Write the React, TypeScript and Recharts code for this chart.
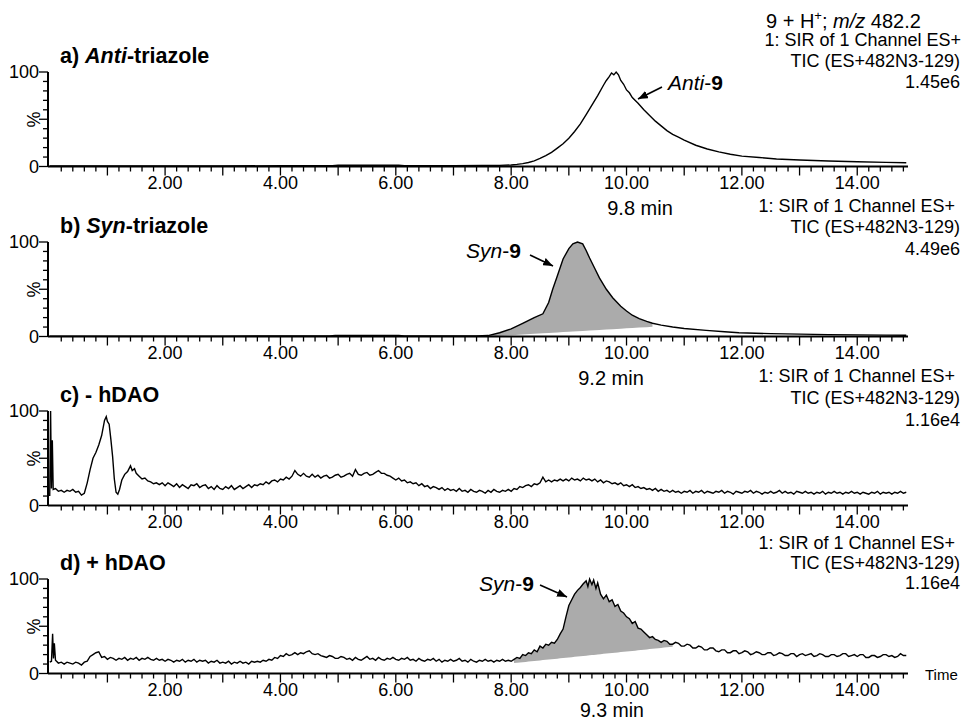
import React from "react";
import { Area, ComposedChart, Line, XAxis, YAxis } from "recharts";

const FONT = "'Liberation Sans', Arial, Helvetica, sans-serif";

// retention time (min) vs relative intensity (%)
const antiTrace = [
  [0, 0.5], [1, 0.5], [2, 0.6], [3, 0.6], [4, 0.8], [4.9, 0.8], [5.0, 1.4], [6.05, 1.4],
  [6.15, 0.8], [7, 0.8], [7.5, 1], [7.8, 1.2], [8.0, 1.6], [8.1, 2.2], [8.2, 3], [8.3, 4.2],
  [8.4, 6], [8.5, 8.5], [8.6, 11.5], [8.7, 15], [8.8, 19.5], [8.9, 24], [9.0, 30], [9.1, 37],
  [9.2, 45], [9.3, 55], [9.4, 65], [9.5, 75], [9.6, 86], [9.65, 91], [9.7, 95], [9.74, 99],
  [9.78, 97], [9.82, 100], [9.86, 97], [9.9, 91], [9.95, 87], [10.0, 81], [10.05, 78],
  [10.1, 73], [10.2, 67], [10.3, 60], [10.4, 54], [10.5, 48], [10.6, 43], [10.7, 38],
  [10.8, 34], [10.9, 31], [11.0, 28], [11.2, 22.5], [11.4, 18.5], [11.6, 15.5], [11.8, 13],
  [12.0, 11], [12.3, 9.5], [12.6, 8], [13.0, 6.8], [13.5, 5.8], [14.0, 5], [14.5, 4.4],
  [14.85, 4],
];

const synTrace = [
  [0, 0.3], [1, 0.3], [2, 0.3], [3, 0.4], [4, 0.5], [4.85, 0.5], [4.95, 1.2], [6.05, 1.2],
  [6.15, 0.5], [7, 0.5], [7.4, 0.7], [7.6, 1], [7.8, 4], [8.0, 8], [8.2, 14], [8.4, 20],
  [8.55, 24], [8.65, 36], [8.72, 50], [8.8, 64], [8.9, 82], [9.0, 93], [9.07, 98],
  [9.15, 100], [9.24, 98], [9.3, 91], [9.36, 83], [9.45, 72], [9.53, 62], [9.65, 50],
  [9.76, 41], [9.9, 32], [10.0, 27], [10.1, 22.5], [10.22, 19], [10.35, 16], [10.45, 14],
  [10.6, 12], [10.8, 10], [11.0, 8.5], [11.38, 6.5], [11.7, 5], [11.95, 4], [12.5, 3],
  [13, 2.5], [13.5, 2], [14, 1.7], [14.5, 1.5], [14.85, 1.3],
];

// lower edge of the integrated (grey) region
const synShadeBase = [
  [7.6, 0], [7.8, 0.7], [8.0, 1.4], [8.2, 2.2], [8.4, 2.9], [8.55, 3.4], [8.65, 3.8],
  [8.72, 4.0], [8.8, 4.3], [8.9, 4.7], [9.0, 5.0], [9.07, 5.3], [9.15, 5.6], [9.24, 5.9],
  [9.3, 6.1], [9.36, 6.3], [9.45, 6.7], [9.53, 7.0], [9.65, 7.4], [9.76, 7.8], [9.9, 8.3],
  [10.0, 8.6], [10.1, 9.0], [10.22, 9.4], [10.35, 9.9], [10.45, 10.3],
];

const minusTrace = [
  [0, 10], [0.015, 100], [0.03, 18], [0.045, 69], [0.06, 17], [0.1, 18], [0.15, 15],
  [0.2, 16], [0.25, 14], [0.3, 16], [0.35, 15], [0.4, 17], [0.45, 14], [0.5, 15],
  [0.55, 11], [0.6, 13], [0.65, 24], [0.7, 38], [0.75, 50], [0.8, 56], [0.85, 64],
  [0.9, 74], [0.95, 90], [0.98, 94], [1.0, 89], [1.03, 86], [1.06, 70], [1.09, 52],
  [1.12, 28], [1.15, 14], [1.18, 12], [1.21, 17], [1.25, 27], [1.3, 33], [1.35, 36],
  [1.4, 42], [1.43, 37], [1.47, 39], [1.5, 34], [1.55, 31], [1.6, 28], [1.65, 29],
  [1.7, 26], [1.75, 25], [1.8, 23], [1.85, 24], [1.9, 22], [1.95, 24], [2.0, 21],
  [2.05, 24], [2.1, 22], [2.15, 20], [2.2, 23], [2.25, 19], [2.3, 22], [2.35, 20],
  [2.4, 18], [2.45, 22], [2.5, 21], [2.55, 23], [2.6, 19], [2.65, 21], [2.7, 22],
  [2.75, 18], [2.8, 20], [2.85, 17], [2.9, 21], [2.95, 18], [3.0, 17], [3.05, 20],
  [3.1, 18], [3.15, 21], [3.2, 17], [3.25, 19], [3.3, 21], [3.35, 18], [3.4, 20],
  [3.45, 22], [3.5, 19], [3.55, 22], [3.6, 21], [3.65, 23], [3.7, 22], [3.75, 25],
  [3.8, 23], [3.85, 26], [3.9, 27], [3.95, 25], [4.0, 28], [4.05, 27], [4.1, 30],
  [4.15, 28], [4.2, 31], [4.25, 37], [4.3, 33], [4.35, 31], [4.4, 34], [4.45, 31],
  [4.5, 30], [4.55, 33], [4.6, 30], [4.65, 32], [4.7, 29], [4.75, 31], [4.8, 32],
  [4.85, 29], [4.9, 30], [4.95, 32], [5.0, 33], [5.05, 30], [5.1, 31], [5.15, 33],
  [5.2, 34], [5.25, 31], [5.3, 38], [5.35, 33], [5.4, 32], [5.45, 34], [5.5, 35],
  [5.55, 32], [5.6, 33], [5.65, 35], [5.7, 37], [5.75, 34], [5.8, 34], [5.85, 32],
  [5.9, 31], [5.95, 29], [6.0, 27], [6.05, 29], [6.1, 26], [6.15, 27], [6.2, 24],
  [6.25, 25], [6.3, 23], [6.35, 24], [6.4, 21], [6.45, 23], [6.5, 20], [6.55, 21],
  [6.6, 18], [6.65, 20], [6.7, 19], [6.75, 17], [6.8, 19], [6.85, 16], [6.9, 18],
  [6.95, 16], [7.0, 17], [7.05, 15], [7.1, 18], [7.15, 15], [7.2, 16], [7.25, 14],
  [7.3, 17], [7.35, 15], [7.4, 14], [7.45, 16], [7.5, 15], [7.55, 13], [7.6, 16],
  [7.65, 14], [7.7, 17], [7.75, 15], [7.8, 14], [7.85, 16], [7.9, 15], [7.95, 17],
  [8.0, 15], [8.05, 18], [8.1, 17], [8.15, 20], [8.2, 19], [8.25, 21], [8.3, 22],
  [8.35, 20], [8.4, 23], [8.45, 22], [8.5, 24], [8.55, 30], [8.6, 25], [8.65, 27],
  [8.7, 25], [8.75, 27], [8.8, 26], [8.85, 28], [8.9, 26], [8.95, 28], [9.0, 26],
  [9.05, 29], [9.1, 27], [9.15, 28], [9.2, 26], [9.25, 29], [9.3, 27], [9.35, 28],
  [9.4, 26], [9.45, 28], [9.5, 25], [9.55, 27], [9.6, 24], [9.65, 26], [9.7, 25],
  [9.75, 23], [9.8, 24], [9.85, 22], [9.9, 24], [9.95, 21], [10.0, 22], [10.05, 20],
  [10.1, 22], [10.15, 19], [10.2, 20], [10.25, 18], [10.3, 19], [10.35, 17], [10.4, 18],
  [10.45, 16], [10.5, 18], [10.55, 15], [10.6, 17], [10.65, 15], [10.7, 16], [10.75, 14],
  [10.8, 16], [10.85, 14], [10.9, 15], [10.95, 13], [11.0, 15], [11.05, 14], [11.1, 16],
  [11.15, 13], [11.2, 15], [11.25, 14], [11.3, 16], [11.35, 13], [11.4, 15], [11.45, 14],
  [11.5, 13], [11.55, 15], [11.6, 14], [11.65, 16], [11.7, 13], [11.75, 15], [11.8, 14],
  [11.85, 12], [11.9, 15], [11.95, 14], [12.0, 13], [12.05, 15], [12.1, 14], [12.15, 16],
  [12.2, 13], [12.25, 15], [12.3, 14], [12.35, 12], [12.4, 14], [12.45, 13], [12.5, 15],
  [12.55, 13], [12.6, 14], [12.65, 16], [12.7, 13], [12.75, 15], [12.8, 13], [12.85, 14],
  [12.9, 12], [12.95, 15], [13.0, 14], [13.05, 13], [13.1, 15], [13.15, 13], [13.2, 14],
  [13.25, 12], [13.3, 14], [13.35, 13], [13.4, 15], [13.45, 12], [13.5, 14], [13.55, 13],
  [13.6, 15], [13.65, 13], [13.7, 14], [13.75, 12], [13.8, 14], [13.85, 13], [13.9, 15],
  [13.95, 13], [14.0, 14], [14.05, 12], [14.1, 14], [14.15, 13], [14.2, 12], [14.25, 14],
  [14.3, 13], [14.35, 15], [14.4, 12], [14.45, 14], [14.5, 13], [14.55, 14], [14.6, 12],
  [14.65, 14], [14.7, 13], [14.75, 15], [14.8, 13], [14.85, 14],
];

const plusTrace = [
  [0, 12], [0.03, 13], [0.05, 42], [0.065, 16], [0.08, 32], [0.1, 14], [0.15, 11],
  [0.2, 12], [0.25, 10], [0.3, 12], [0.35, 11], [0.4, 10], [0.45, 12], [0.5, 11],
  [0.55, 9], [0.6, 12], [0.65, 13], [0.7, 18], [0.75, 20], [0.8, 22], [0.85, 23], [0.9, 17],
  [0.95, 18], [1.0, 15], [1.05, 17], [1.1, 16], [1.15, 14], [1.2, 16], [1.25, 15],
  [1.3, 17], [1.35, 14], [1.4, 16], [1.45, 15], [1.5, 17], [1.55, 14], [1.6, 16],
  [1.65, 15], [1.7, 17], [1.75, 15], [1.8, 14], [1.85, 16], [1.9, 14], [1.95, 15],
  [2.0, 13], [2.05, 15], [2.1, 14], [2.15, 12], [2.2, 14], [2.25, 13], [2.3, 15],
  [2.35, 12], [2.4, 14], [2.45, 13], [2.5, 15], [2.55, 12], [2.6, 14], [2.65, 13],
  [2.7, 14], [2.75, 11], [2.8, 13], [2.85, 12], [2.9, 14], [2.95, 11], [3.0, 12],
  [3.05, 11], [3.1, 13], [3.15, 10], [3.2, 12], [3.25, 11], [3.3, 13], [3.35, 11],
  [3.4, 12], [3.45, 10], [3.5, 13], [3.55, 12], [3.6, 13], [3.65, 12], [3.7, 14],
  [3.75, 13], [3.8, 15], [3.85, 14], [3.9, 17], [3.95, 16], [4.0, 19], [4.05, 18],
  [4.1, 21], [4.15, 19], [4.2, 20], [4.25, 22], [4.3, 20], [4.35, 22], [4.4, 21],
  [4.45, 23], [4.5, 24], [4.55, 21], [4.6, 20], [4.65, 21], [4.7, 19], [4.75, 18],
  [4.8, 17], [4.85, 19], [4.9, 18], [4.95, 16], [5.0, 16], [5.05, 18], [5.1, 17],
  [5.15, 15], [5.2, 16], [5.25, 14], [5.3, 17], [5.35, 15], [5.4, 14], [5.45, 16],
  [5.5, 18], [5.55, 15], [5.6, 16], [5.65, 14], [5.7, 17], [5.75, 15], [5.8, 14],
  [5.85, 16], [5.9, 15], [5.95, 17], [6.0, 15], [6.05, 14], [6.1, 16], [6.15, 15],
  [6.2, 17], [6.25, 14], [6.3, 15], [6.35, 13], [6.4, 16], [6.45, 14], [6.5, 13],
  [6.55, 15], [6.6, 14], [6.65, 16], [6.7, 13], [6.75, 15], [6.8, 12], [6.85, 14],
  [6.9, 13], [6.95, 15], [7.0, 13], [7.05, 14], [7.1, 16], [7.15, 13], [7.2, 14],
  [7.25, 12], [7.3, 15], [7.35, 13], [7.4, 12], [7.45, 14], [7.5, 13], [7.55, 15],
  [7.6, 13], [7.65, 14], [7.7, 12], [7.75, 14], [7.8, 13], [7.85, 15], [7.9, 13],
  [7.95, 14], [8.0, 13], [8.05, 15], [8.1, 17], [8.15, 16], [8.2, 20], [8.25, 19],
  [8.3, 22], [8.35, 21], [8.4, 25], [8.45, 23], [8.5, 29], [8.55, 27], [8.6, 31],
  [8.65, 30], [8.7, 33], [8.75, 32], [8.8, 36], [8.85, 42], [8.9, 47], [8.95, 60],
  [9.0, 72], [9.05, 78], [9.1, 84], [9.15, 88], [9.2, 91], [9.25, 95], [9.3, 98],
  [9.33, 92], [9.36, 100], [9.4, 94], [9.43, 99], [9.47, 90], [9.5, 96], [9.55, 84],
  [9.6, 79], [9.65, 83], [9.7, 76], [9.75, 78], [9.8, 71], [9.85, 73], [9.9, 66],
  [9.95, 64], [10.0, 60], [10.05, 58], [10.1, 53], [10.15, 55], [10.2, 48], [10.25, 47],
  [10.3, 44], [10.35, 41], [10.4, 38], [10.45, 39], [10.5, 36], [10.55, 35], [10.6, 33],
  [10.65, 35], [10.7, 34], [10.75, 31], [10.8, 31], [10.85, 33], [10.9, 32], [10.95, 29],
  [11.0, 29], [11.05, 31], [11.1, 30], [11.15, 27], [11.2, 27], [11.25, 29], [11.3, 28],
  [11.35, 25], [11.4, 25], [11.45, 27], [11.5, 27], [11.55, 24], [11.6, 23], [11.65, 25],
  [11.7, 25], [11.75, 22], [11.8, 22], [11.85, 24], [11.9, 24], [11.95, 21], [12.0, 22],
  [12.05, 24], [12.1, 23], [12.15, 20], [12.2, 21], [12.25, 23], [12.3, 22], [12.35, 20],
  [12.4, 20], [12.45, 22], [12.5, 22], [12.55, 19], [12.6, 20], [12.65, 22], [12.7, 21],
  [12.75, 19], [12.8, 19], [12.85, 21], [12.9, 21], [12.95, 18], [13.0, 20], [13.05, 21],
  [13.1, 19], [13.15, 20], [13.2, 21], [13.25, 18], [13.3, 19], [13.35, 21], [13.4, 20],
  [13.45, 18], [13.5, 18], [13.55, 20], [13.6, 20], [13.65, 18], [13.7, 19], [13.75, 21],
  [13.8, 21], [13.85, 18], [13.9, 19], [13.95, 20], [14.0, 18], [14.05, 20], [14.1, 20],
  [14.15, 17], [14.2, 17], [14.25, 19], [14.3, 19], [14.35, 17], [14.4, 18], [14.45, 20],
  [14.5, 20], [14.55, 18], [14.6, 19], [14.65, 17], [14.7, 18], [14.75, 21], [14.8, 19],
  [14.85, 19],
];

const plusShadeBase = [
  [8.05, 11], [8.1, 11.3], [8.15, 11.6], [8.2, 11.9], [8.25, 12.3], [8.3, 12.6],
  [8.35, 12.9], [8.4, 13.2], [8.45, 13.5], [8.5, 13.8], [8.55, 14.2], [8.6, 14.5],
  [8.65, 14.8], [8.7, 15.1], [8.75, 15.4], [8.8, 15.7], [8.85, 16.1], [8.9, 16.4],
  [8.95, 16.7], [9.0, 17], [9.05, 17.3], [9.1, 17.6], [9.15, 18], [9.2, 18.3],
  [9.25, 18.6], [9.3, 18.9], [9.33, 19.1], [9.36, 19.3], [9.4, 19.5], [9.43, 19.7],
  [9.47, 19.9], [9.5, 20.1], [9.55, 20.4], [9.6, 20.8], [9.65, 21.1], [9.7, 21.4],
  [9.75, 21.7], [9.8, 22], [9.85, 22.3], [9.9, 22.7], [9.95, 23], [10.0, 23.3],
  [10.05, 23.6], [10.1, 23.9], [10.15, 24.2], [10.2, 24.6], [10.25, 24.9], [10.3, 25.2],
  [10.35, 25.5], [10.4, 25.8], [10.45, 26.1], [10.5, 26.5], [10.55, 26.8], [10.6, 27.1],
  [10.65, 27.4], [10.7, 27.7], [10.75, 28], [10.8, 28.4],
];

const xLabelValues = [2, 4, 6, 8, 10, 12, 14];
const xLabels = ["2.00", "4.00", "6.00", "8.00", "10.00", "12.00", "14.00"];
const yTicks = [0, 10, 20, 30, 40, 50, 60, 70, 80, 90, 100];
const yLabelValues = [0, 100];
const xTicks = Array.from({ length: 74 }, (_, i) => Math.round((i + 1) * 2) / 10);

const titles = [
  ["a) ", "Anti", "-triazole"],
  ["b) ", "Syn", "-triazole"],
  ["c) - hDAO", "", ""],
  ["d) + hDAO", "", ""],
];
const channelLine = "1: SIR of 1 Channel ES+";
const ticLine = "TIC (ES+482N3-129)";
const intensities = ["1.45e6", "4.49e6", "1.16e4", "1.16e4"];

const toRows = (trace: number[][], base?: number[][]) => {
  const m = new Map(base ?? []);
  return trace.map(([t, v]) => ({ t, v, base: m.get(t) }));
};

const panelTops = [0, 170, 339, 507];
const panels = [
  toRows(antiTrace),
  toRows(synTrace, synShadeBase),
  toRows(minusTrace),
  toRows(plusTrace, plusShadeBase),
];

function XTick(props: any) {
  const { x, y, payload } = props;
  const v = payload.value;
  const major = Math.abs(v - Math.round(v)) < 0.001;
  const idx = major ? xLabelValues.indexOf(Math.round(v)) : -1;
  return (
    <g>
      <line x1={x} x2={x} y1={y} y2={y + (major ? 9 : 5)} stroke="#000" strokeWidth={1.3} />
      {idx >= 0 && (
        <text x={x} y={y + 22} textAnchor="middle" fontSize={18} fontFamily={FONT} fill="#000">
          {xLabels[idx]}
        </text>
      )}
    </g>
  );
}

function YTick(props: any) {
  const { x, y, payload } = props;
  const v = payload.value;
  const major = v % 50 === 0;
  return (
    <g>
      <line x1={x} x2={x - (major ? 9 : 5)} y1={y} y2={y} stroke="#000" strokeWidth={1.3} />
      {yLabelValues.includes(v) && (
        <text x={x - 9} y={y} dy="0.35em" textAnchor="end" fontSize={18} fontFamily={FONT} fill="#000">
          {v}
        </text>
      )}
    </g>
  );
}

function Panel({ rows, top }: { rows: any[]; top: number }) {
  return (
    <div style={{ position: "absolute", left: 0, top }}>
      <ComposedChart
        width={962}
        height={200}
        data={rows}
        margin={{ top: 72, right: 54, bottom: 0, left: 0 }}
      >
        <XAxis
          dataKey="t"
          type="number"
          domain={[-0.03, 14.88]}
          allowDataOverflow
          ticks={xTicks}
          interval={0}
          tickLine={false}
          tickSize={0}
          tickMargin={0}
          tick={XTick}
          axisLine={{ stroke: "#000", strokeWidth: 2 }}
          height={33.5}
        />
        <YAxis
          type="number"
          domain={[0, 100]}
          ticks={yTicks}
          interval={0}
          tickLine={false}
          tickSize={0}
          tickMargin={0}
          tick={YTick}
          axisLine={{ stroke: "#000", strokeWidth: 2 }}
          width={48}
        />
        <Area
          type="linear"
          dataKey={(r: any) => (r.base != null ? [r.base, r.v] : null)}
          fill="#ababab"
          fillOpacity={1}
          stroke="none"
          isAnimationActive={false}
        />
        <Line
          type="linear"
          dataKey="v"
          stroke="#000"
          strokeWidth={1.4}
          dot={false}
          isAnimationActive={false}
        />
      </ComposedChart>
    </div>
  );
}

const infoY = [
  [46, 67, 88],
  [212, 233, 255],
  [382, 404, 426],
  [549, 569, 589],
];
const channelEnd = [961, 955, 955, 955];

export default function App() {
  return (
    <div
      style={{
        position: "absolute",
        left: 0,
        top: 0,
        width: 962,
        height: 723,
        background: "#fff",
        fontFamily: FONT,
      }}
    >
      {panels.map((rows, i) => (
        <Panel key={i} rows={rows} top={panelTops[i]} />
      ))}
      <svg
        width={962}
        height={723}
        style={{ position: "absolute", left: 0, top: 0, pointerEvents: "none" }}
        fontFamily={FONT}
      >
        <defs>
          <marker
            id="ah"
            viewBox="0 0 10 8"
            refX={10}
            refY={4}
            markerWidth={10}
            markerHeight={8}
            markerUnits="userSpaceOnUse"
            orient="auto"
          >
            <path d="M0,0 L10,4 L0,8 z" fill="#000" />
          </marker>
        </defs>
        <text x={766} y={28} fontSize={20}>
          9 + H<tspan fontSize={13} dy={-8}>+</tspan>
          <tspan dy={8}>{"; "}</tspan>
          <tspan fontStyle="italic">m/z</tspan>
          {" 482.2"}
        </text>
        {titles.map((t, i) => (
          <text key={i} x={60} y={panelTops[i] + 63} fontSize={21.5} fontWeight="bold">
            {t[0]}
            {t[1] && <tspan fontStyle="italic">{t[1]}</tspan>}
            {t[2]}
          </text>
        ))}
        {panelTops.map((top, i) => (
          <g key={i} fontSize={18}>
            <text
              transform={`translate(34, ${top + 119.5}) rotate(-90)`}
              textAnchor="middle"
              dy="0.35em"
            >
              %
            </text>
            <text x={channelEnd[i]} y={infoY[i][0]} textAnchor="end">
              {channelLine}
            </text>
            <text x={960} y={infoY[i][1]} textAnchor="end">
              {ticLine}
            </text>
            <text x={960} y={infoY[i][2]} textAnchor="end">
              {intensities[i]}
            </text>
          </g>
        ))}
        <text x={640} y={215} fontSize={20} textAnchor="middle">9.8 min</text>
        <text x={611} y={385} fontSize={20} textAnchor="middle">9.2 min</text>
        <text x={612} y={717} fontSize={19.5} textAnchor="middle">9.3 min</text>
        <text x={925} y={680} fontSize={15}>Time</text>

        <text x={668} y={90} fontSize={21}>
          <tspan fontStyle="italic">Anti</tspan>-<tspan fontWeight="bold">9</tspan>
        </text>
        <line x1={662} y1={87} x2={638} y2={99} stroke="#000" strokeWidth={1.6} markerEnd="url(#ah)" />
        <text x={466} y={258} fontSize={21}>
          <tspan fontStyle="italic">Syn</tspan>-<tspan fontWeight="bold">9</tspan>
        </text>
        <line x1={530} y1={255} x2={553} y2={266} stroke="#000" strokeWidth={1.6} markerEnd="url(#ah)" />
        <text x={479} y={591} fontSize={21}>
          <tspan fontStyle="italic">Syn</tspan>-<tspan fontWeight="bold">9</tspan>
        </text>
        <line x1={540} y1={585} x2={567} y2={597} stroke="#000" strokeWidth={1.6} markerEnd="url(#ah)" />
      </svg>
    </div>
  );
}
